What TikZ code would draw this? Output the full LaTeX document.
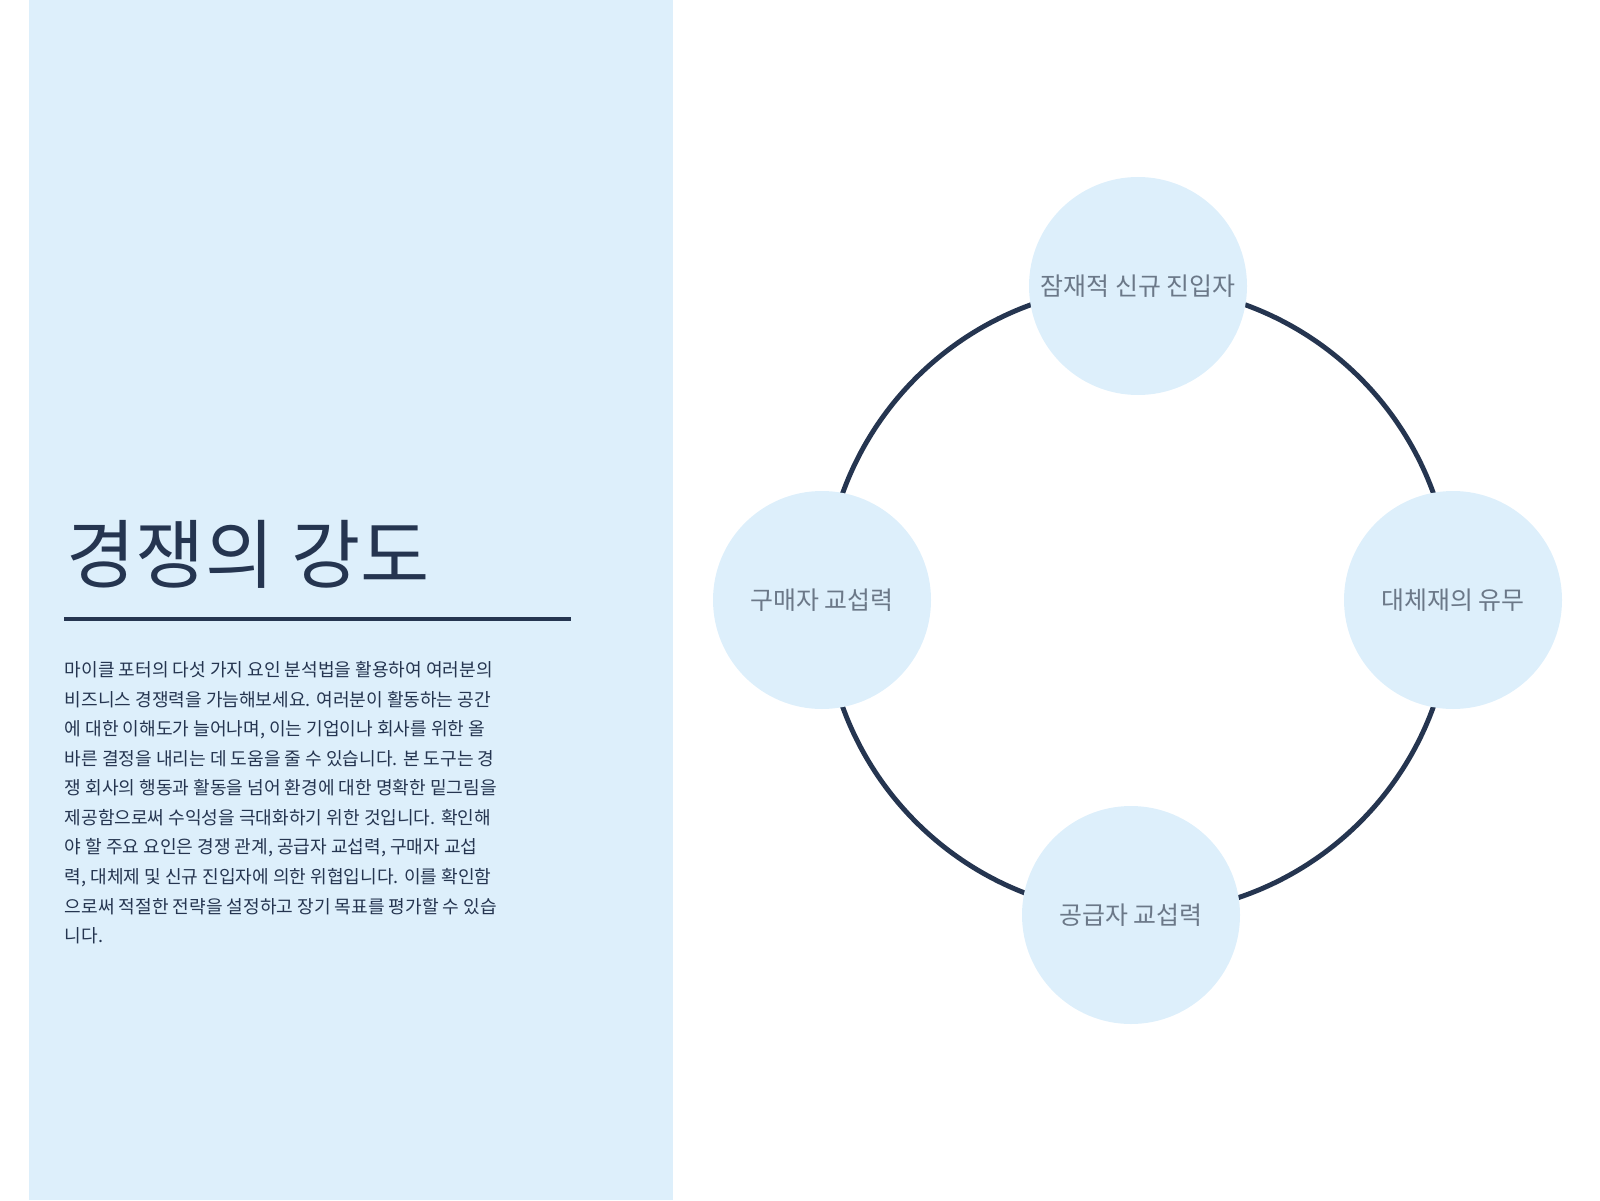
\documentclass[tikz,border=0pt]{standalone}
\usepackage{fontspec}
\newfontfamily\kr{Noto Sans CJK KR}
\definecolor{panel}{HTML}{DDEFFB}
\definecolor{ink}{HTML}{253550}
\definecolor{lab}{HTML}{6B7888}
\tikzset{
  force/.style={circle, fill=panel, minimum size=2.18cm, inner sep=0pt,
    font=\kr\fontsize{7.1}{9}\selectfont, text=lab},
}
\begin{document}
\begin{tikzpicture}
  \useasboundingbox (0,0) rectangle (16,12);
  % left panel
  \fill[panel] (0.29,0) rectangle (6.73,12);
  \node[anchor=base west, inner sep=0pt, text=ink,
    font=\kr\fontsize{21.4}{25}\selectfont] (title) at (0.66,6.18) {경쟁의 강도};
  \draw[ink, line width=1.4pt] (0.64,5.81) -- (5.71,5.81);
  \node[anchor=north west, inner sep=0pt, text=ink, align=left,
    font=\kr\fontsize{5.15}{8.4}\selectfont] (body) at (0.64,5.39)
    {마이클 포터의 다섯 가지 요인 분석법을 활용하여 여러분의\\
     비즈니스 경쟁력을 가늠해보세요. 여러분이 활동하는 공간\\
     에 대한 이해도가 늘어나며, 이는 기업이나 회사를 위한 올\\
     바른 결정을 내리는 데 도움을 줄 수 있습니다. 본 도구는 경\\
     쟁 회사의 행동과 활동을 넘어 환경에 대한 명확한 밑그림을\\
     제공함으로써 수익성을 극대화하기 위한 것입니다. 확인해\\
     야 할 주요 요인은 경쟁 관계, 공급자 교섭력, 구매자 교섭\\
     력, 대체제 및 신규 진입자에 의한 위협입니다. 이를 확인함\\
     으로써 적절한 전략을 설정하고 장기 목표를 평가할 수 있습\\
     니다.};
  % ring
  \coordinate (hub) at (11.38,6.0);
  \draw[ink, line width=1.4pt] (hub) circle (3.14);
  \node[force] (entry) at (11.38,9.14) {잠재적 신규 진입자};
  \node[force] (subst) at (14.53,6.0) {대체재의 유무};
  \node[force] (supply) at (11.31,2.85) {공급자 교섭력};
  \node[force] (buyer) at (8.22,6.0) {구매자 교섭력};
\end{tikzpicture}
\end{document}
